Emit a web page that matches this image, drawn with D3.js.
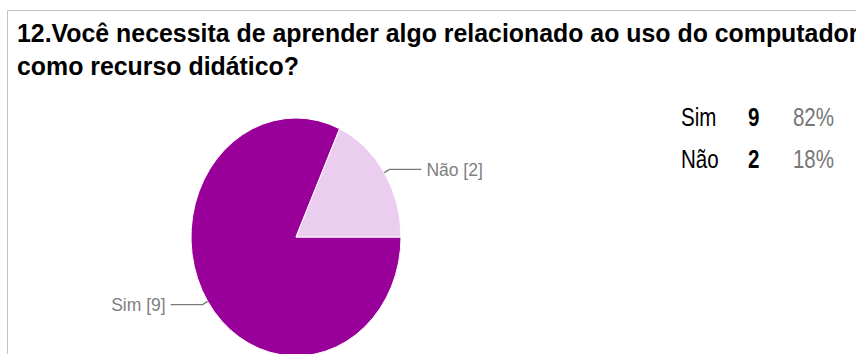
<!DOCTYPE html>
<html>
<head>
<meta charset="utf-8">
<script src="https://cdn.jsdelivr.net/npm/d3@7"></script>
<style>
    html, body { margin: 0; padding: 0; background: #fff; overflow: hidden; }
    text { font-family: Arial, "Liberation Sans", sans-serif; }
</style>
</head>
<body>
<div id="chart"></div>
<script>
// chart data
var titleLines = ["12.Você necessita de aprender algo relacionado ao uso do computador", "como recurso didático?"];
var categories = ["Sim", "Não"];
var counts = [9, 2];
var sliceColors = ["#990099", "#eacdef"];

var width = 856, height = 354;
var cx = 296, cy = 237, rx = 105, ry = 119;   // pie is a bit taller than wide in the shot

var svg = d3.select('#chart').append('svg')
    .attr('width', width)
    .attr('height', height);

// frame of the question panel (top + left border only, rest is cropped)
svg.append('path')
    .attr('d', 'M7.5,' + height + 'V10.5H' + width)
    .attr('fill', 'none')
    .attr('stroke', '#c2c2c2')
    .attr('stroke-width', 1);

/** title: two bold lines, squeezed horizontally like the screenshot */
var titleG = svg.append('g');
var titleTexts = titleG.selectAll('text')
    .data(titleLines)
    .enter().append('text')
    .attr('font-size', 26)
    .attr('font-weight', 'bold')
    .attr('fill', '#000')
    .text(function (d) { return d; });
var firstLen = titleTexts.node().getComputedTextLength();
var titleSx = 842 / firstLen;
titleTexts.attr('transform', function (d, i) {
    return 'translate(17,' + (42 + i * 33.3) + ') scale(' + titleSx + ',1)';
});

/** pie */
var total = d3.sum(counts);
var pieData = d3.pie()
    .sort(null)
    .startAngle(Math.PI / 2)
    .endAngle(Math.PI / 2 + 2 * Math.PI)(counts);

var arc = d3.arc().innerRadius(0).outerRadius(rx);

var pieG = svg.append('g')
    .attr('transform', 'translate(' + cx + ',' + cy + ') scale(1,' + (ry / rx) + ')');

pieG.selectAll('path')
    .data(pieData)
    .enter().append('path')
    .attr('d', arc)
    .attr('fill', function (d, i) { return sliceColors[i]; })
    .attr('stroke', '#fff')
    .attr('stroke-width', 1)
    .attr('vector-effect', 'non-scaling-stroke');

// leader lines + labels
var labelG = svg.append('g');
pieData.forEach(function (d, i) {
    var mid = (d.startAngle + d.endAngle) / 2;
    var sx = Math.sin(mid), sy = -Math.cos(mid);
    var ex = cx + rx * sx, ey = cy + ry * sy;
    var bx = ex + 6 * sx, by = ey + 6 * sy;
    var side = sx >= 0 ? 1 : -1;
    var hx = bx + side * 32;
    labelG.append('path')
        .attr('d', 'M' + ex + ',' + ey + 'L' + bx + ',' + by + 'L' + hx + ',' + by)
        .attr('fill', 'none')
        .attr('stroke', '#7a7a7a')
        .attr('stroke-width', 1.3);
    labelG.append('text')
        .attr('x', hx + side * 5)
        .attr('y', by + 6.5)
        .attr('text-anchor', side > 0 ? 'start' : 'end')
        .attr('font-size', 17.5)
        .attr('fill', '#808080')
        .text(categories[i] + ' [' + counts[i] + ']');
});

/** legend table at the right */
var legendSx = 0.79;
var pct = d3.format('.0%');
var rows = svg.append('g').selectAll('g')
    .data(categories)
    .enter().append('g')
    .attr('transform', function (d, i) { return 'translate(0,' + (126 + i * 42) + ')'; });

rows.append('text')
    .attr('transform', 'translate(681,0) scale(' + legendSx + ',1)')
    .attr('font-size', 26)
    .attr('fill', '#000')
    .text(function (d) { return d; });
rows.append('text')
    .attr('transform', 'translate(748,0) scale(' + legendSx + ',1)')
    .attr('font-size', 26)
    .attr('font-weight', 'bold')
    .attr('fill', '#000')
    .text(function (d, i) { return counts[i]; });
rows.append('text')
    .attr('transform', 'translate(834,0) scale(' + legendSx + ',1)')
    .attr('text-anchor', 'end')
    .attr('font-size', 26)
    .attr('fill', '#777')
    .text(function (d, i) { return pct(counts[i] / total); });
</script>
</body>
</html>
